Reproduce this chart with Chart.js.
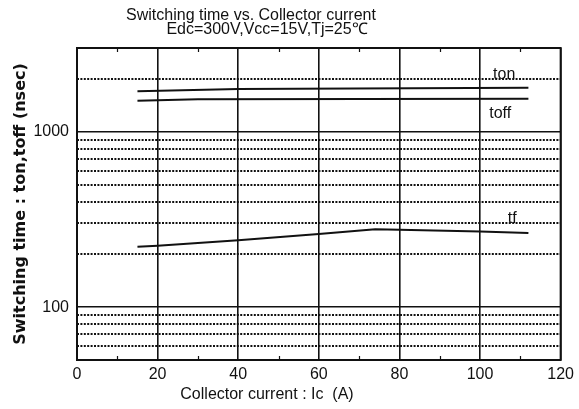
<!DOCTYPE html>
<html><head><meta charset="utf-8">
<script src="https://cdn.jsdelivr.net/npm/chart.js@4"></script>
<style>html,body{margin:0;background:#fff}#wrap{width:579px;height:409px}</style>
</head><body><div id="wrap"><canvas id="c" width="579" height="409"></canvas></div>
<script>
// Switching time vs. collector current
const tonX = [15, 40, 112];
const tonY = [1700, 1750, 1780];
const toffX = [15, 30, 112];
const toffY = [1500, 1530, 1540];
const tfX = [15, 20, 40, 60, 74, 80, 100, 112];
const tfY = [221, 224, 241, 261, 278, 276, 270, 265];

const xTicks = [0, 20, 40, 60, 80, 100, 120];
const xMinorTicks = [10, 30, 50, 70, 90, 110];
const yMajor = [100, 1000];
const yMinor = [60, 70, 80, 90, 200, 300, 400, 500, 600, 700, 800, 900, 2000];
const yLabels = ["100", "1000"];

const FONT = "'Liberation Sans', Arial, sans-serif";
const pts = (xs, ys) => xs.map((x, i) => ({ x, y: ys[i] }));
const line = (data) => ({ data, borderColor: "#111", borderWidth: 2, pointRadius: 0, fill: false, tension: 0 });

const decor = {
  id: "decor",
  beforeDatasetsDraw(chart) {
    const { ctx, chartArea: a, scales: { x, y } } = chart;
    ctx.save();
    ctx.strokeStyle = "#111";
    ctx.lineWidth = 2;
    ctx.setLineDash([2, 1.4]);
    yMinor.forEach((v) => {
      const py = Math.round(y.getPixelForValue(v));
      ctx.beginPath(); ctx.moveTo(a.left, py); ctx.lineTo(a.right, py); ctx.stroke();
    });
    ctx.setLineDash([]);
    ctx.lineWidth = 1.2;
    xMinorTicks.forEach((v) => {
      const px = Math.round(x.getPixelForValue(v)) + 0.5;
      ctx.beginPath(); ctx.moveTo(px, a.top); ctx.lineTo(px, a.top + 4); ctx.stroke();
      ctx.beginPath(); ctx.moveTo(px, a.bottom); ctx.lineTo(px, a.bottom - 4); ctx.stroke();
    });
    ctx.restore();
  },
  afterDraw(chart) {
    const { ctx, chartArea: a, scales: { x, y } } = chart;
    ctx.save();
    ctx.strokeStyle = "#111";
    ctx.lineWidth = 2;
    ctx.strokeRect(a.left, a.top, a.right - a.left, a.bottom - a.top);

    ctx.fillStyle = "#111";
    ctx.textAlign = "center";
    ctx.textBaseline = "alphabetic";
    ctx.font = "16px " + FONT;
    ctx.fillText("ton", x.getPixelForValue(106), y.getPixelForValue(2000));
    ctx.fillText("toff", x.getPixelForValue(105), y.getPixelForValue(1190));
    ctx.fillText("tf", x.getPixelForValue(108), y.getPixelForValue(300));

    ctx.fillText("Switching time vs. Collector current", 251, 20);
    ctx.fillText("Edc=300V,Vcc=15V,Tj=25\u2103", 267, 34);
    ctx.fillText("Collector current : Ic  (A)", 267, 399);

    ctx.translate(21, (a.top + a.bottom) / 2);
    ctx.rotate(-Math.PI / 2);
    ctx.font = "bold 16px 'DejaVu Sans', sans-serif";
    ctx.textBaseline = "middle";
    ctx.fillText("Switching time : ton,toff (nsec)", 0, 0);
    ctx.restore();
  },
};

new Chart(document.getElementById("c"), {
  type: "line",
  data: { datasets: [line(pts(tonX, tonY)), line(pts(toffX, toffY)), line(pts(tfX, tfY))] },
  options: {
    responsive: false, animation: false, devicePixelRatio: 1,
    layout: { padding: { top: 48, right: 13, left: 0, bottom: 0 } },
    plugins: { legend: { display: false }, tooltip: { enabled: false } },
    scales: {
      x: {
        type: "linear", min: 0, max: 120,
        afterFit: (s) => { s.height = 49; },
        afterBuildTicks: (s) => { s.ticks = xTicks.map((v) => ({ value: v })); },
        grid: { color: "#111", lineWidth: 1.6, drawTicks: false },
        border: { display: false },
        ticks: { padding: 5, color: "#111", font: { family: FONT, size: 16 } },
      },
      y: {
        type: "logarithmic", min: 50, max: 3000,
        afterFit: (s) => { s.width = 77; },
        afterBuildTicks: (s) => { s.ticks = yMajor.map((v) => ({ value: v })); },
        grid: { color: "#111", lineWidth: 1.6, drawTicks: false },
        border: { display: false },
        ticks: {
          padding: 8, color: "#111", font: { family: FONT, size: 16 },
          callback: (v) => yLabels.includes(String(v)) ? String(v) : "",
        },
      },
    },
  },
  plugins: [decor],
});
</script></body></html>
